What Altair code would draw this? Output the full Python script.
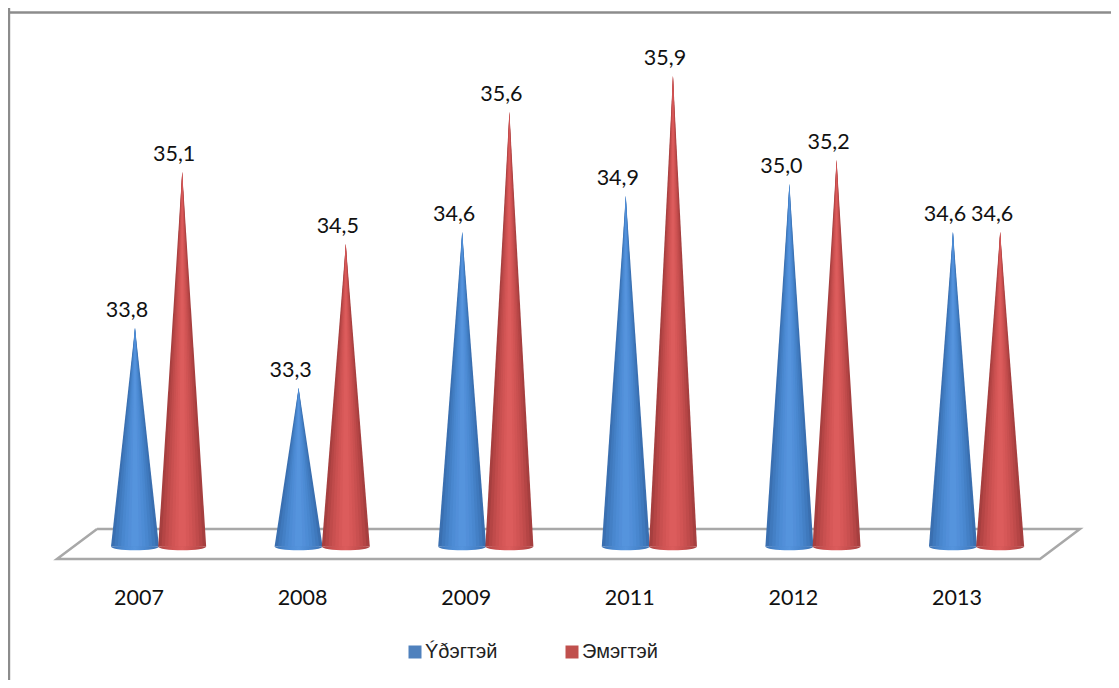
import altair as alt
import pandas as pd

# ---- values ----
YEARS = ["2007", "2008", "2009", "2011", "2012", "2013"]
MALE = [33.8, 33.3, 34.6, 34.9, 35.0, 34.6]
FEMALE = [35.1, 34.5, 35.6, 35.9, 35.2, 34.6]
SERIES_NAMES = ["Ýðэгтэй", "Эмэгтэй"]
BASE_VALUE = 31.98

# ---- layout in scale units (x: one unit per category, y: data value) ----
X_DOMAIN = [-0.7763, 5.966]
Y_DOMAIN = [30.867, 36.467]
CONE_OFFSET = [0.0, 0.2885]
CONE_HALF = 0.1467
FLOOR_X = [-0.232, 5.776, 5.532, -0.477, -0.232]
FLOOR_Y = [32.125, 32.125, 31.875, 31.875, 32.125]
FRAME_X = -0.7705
FRAME_Y = 36.43
YEAR_LABEL_Y = 31.492
YEAR_LABEL_DX = 4

# ---- styles ----
FONT = "Lato"
SHELLS = [1.0, 0.86, 0.72, 0.58, 0.44, 0.3, 0.16]
SHADES = [
    ["#3a6fb0", "#3f79bd", "#4480c6", "#4987cf", "#4d8cd5", "#528fd9", "#5594dd"],
    ["#a63f3f", "#b54545", "#c04b4b", "#c95050", "#d15454", "#d75858", "#dc5c5c"],
]
LEGEND_COLORS = ["#4F81BD", "#C0504D"]
HALF_ELLIPSE = "M-1,0 A1,0.16,0,0,0,1,0 Z"

x_scale = alt.Scale(domain=X_DOMAIN, nice=False, zero=False)
y_scale = alt.Scale(domain=Y_DOMAIN, nice=False, zero=False)
X = lambda f: alt.X(f, type="quantitative", scale=x_scale, axis=None)
Y = lambda f: alt.Y(f, type="quantitative", scale=y_scale, axis=None)

layers = []

# frame (top and left lines only)
layers.append(alt.Chart(pd.DataFrame({"x": [FRAME_X]})).mark_rule(color="#8c8c8c", strokeWidth=2.5).encode(x=X("x")))
layers.append(alt.Chart(pd.DataFrame({"y": [FRAME_Y]})).mark_rule(color="#8c8c8c", strokeWidth=2.5).encode(y=Y("y")))

# floor
floor = pd.DataFrame({"x": FLOOR_X, "y": FLOOR_Y, "o": range(len(FLOOR_X))})
layers.append(
    alt.Chart(floor).mark_line(color="#a8a8a8", strokeWidth=2.5, strokeJoin="miter").encode(x=X("x"), y=Y("y"), order="o")
)

# cones
for s, values in enumerate([MALE, FEMALE]):
    base_rows = pd.DataFrame({
        "x": [i + CONE_OFFSET[s] for i in range(len(YEARS))],
        "y": [BASE_VALUE] * len(YEARS),
    })
    stops = [alt.GradientStop(offset=o, color=c) for o, c in zip(
        [0.0, 0.14, 0.3, 0.5, 0.72, 1.0],
        [SHADES[s][0], SHADES[s][2], SHADES[s][4], SHADES[s][6], SHADES[s][3], SHADES[s][0]],
    )]
    for shell, shade in zip(SHELLS, SHADES[s]):
        rows = []
        for i, (year, v) in enumerate(zip(YEARS, values)):
            c = i + CONE_OFFSET[s]
            rows += [
                {"year": year, "x": c - CONE_HALF * shell, "y": BASE_VALUE},
                {"year": year, "x": c, "y": v},
                {"year": year, "x": c + CONE_HALF * shell, "y": BASE_VALUE},
            ]
        layers.append(
            alt.Chart(pd.DataFrame(rows)).mark_area(color=shade, interpolate="linear").encode(
                x=X("x"), y=Y("y"), y2=alt.Y2(datum=BASE_VALUE), detail="year:N"
            )
        )
    layers.append(
        alt.Chart(base_rows).mark_point(
            shape=HALF_ELLIPSE, size=2304, filled=True, opacity=1, strokeWidth=0,
            fill=alt.Gradient(gradient="linear", x1=0, x2=1, y1=0, y2=0, stops=stops),
        ).encode(x=X("x"), y=Y("y"))
    )
    # value labels
    labels = pd.DataFrame({
        "x": [i + CONE_OFFSET[s] for i in range(len(YEARS))],
        "y": values,
        "t": [f"{v:.1f}".replace(".", ",") for v in values],
    })
    layers.append(
        alt.Chart(labels).mark_text(font=FONT, fontSize=21.5, color="#111111", baseline="alphabetic", dx=-8, dy=-11).encode(
            x=X("x"), y=Y("y"), text="t:N"
        )
    )

# category labels
cats = pd.DataFrame({"x": list(range(len(YEARS))), "y": [YEAR_LABEL_Y] * len(YEARS), "t": YEARS})
layers.append(
    alt.Chart(cats).mark_text(font=FONT, fontSize=21.5, color="#111111", baseline="alphabetic", dx=YEAR_LABEL_DX).encode(
        x=X("x"), y=Y("y"), text="t:N"
    )
)

# legend
layers.append(
    alt.Chart(pd.DataFrame({"s": SERIES_NAMES})).mark_square(opacity=0).encode(
        color=alt.Color(
            "s:N",
            scale=alt.Scale(domain=SERIES_NAMES, range=LEGEND_COLORS),
            legend=alt.Legend(
                title=None, orient="none", direction="horizontal", legendX=397, legendY=634,
                symbolType="square", symbolSize=169, symbolOpacity=1, symbolStrokeWidth=0,
                labelFont="Liberation Sans", labelFontSize=20, labelColor="#222222", labelOffset=0,
                columnPadding=64, padding=0,
            ),
        )
    )
)

chart = (
    alt.layer(*layers)
    .properties(width=1103, height=672, padding=0, autosize=alt.AutoSizeParams(type="none"), background="white")
    .configure_view(stroke=None)
)
chart.save("out.html", embed_options={"renderer": "svg", "actions": False})
